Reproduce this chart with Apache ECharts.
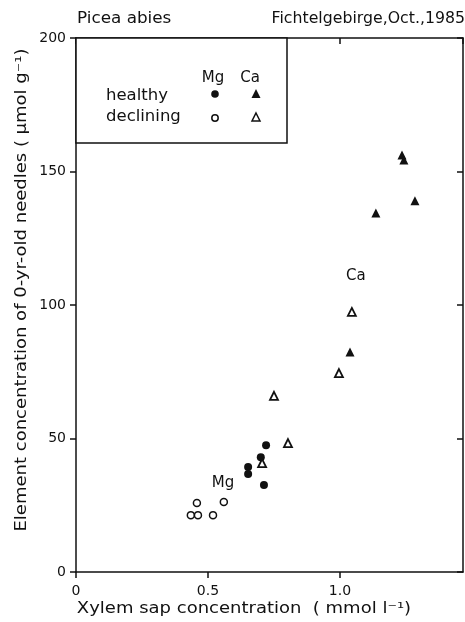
<!DOCTYPE html>
<html style="height:100%">
<head>
    <meta charset="utf-8">
    <title>Picea abies xylem sap</title>
<script src="https://cdn.jsdelivr.net/npm/echarts@6/dist/echarts.min.js"></script>
</head>
<body style="height:100%;width:100%;margin:0;background:#fff;">
    <div id="main" style="width:465px;height:622px;margin:0"></div>
    <script type="text/javascript">
        // values: [xylem sap mmol/l, needle conc µmol/g]
        var mgHealthy = [[0.72, 47.5], [0.70, 43], [0.652, 39.3], [0.652, 36.7], [0.712, 32.6]];
        var mgDeclining = [[0.458, 25.8], [0.56, 26.2], [0.435, 21.3], [0.462, 21.3], [0.519, 21.3]];
        var caHealthy = [[1.235, 156.2], [1.242, 154.3], [1.284, 139], [1.136, 134.5], [1.038, 82.4]];
        var caDeclining = [[1.045, 97.4], [0.996, 74.5], [0.75, 66], [0.803, 48.3], [0.705, 40.8]];
        // in-plot element labels
        var elementLabels = [{name: 'Ca', value: [1.06, 111]}, {name: 'Mg', value: [0.557, 33.3]}];
        var xTicks = [0, 0.5, 1.0];
        var yTicks = [0, 50, 100, 150, 200];

        var FONT = '"DejaVu Sans", Verdana, sans-serif';
        var black = '#111';

        var myChart = echarts.init(document.getElementById('main'));

        function axisBase(extra) {
            var a = {
                type: 'value',
                axisLine: {show: true, onZero: false, lineStyle: {color: black, width: 1.5}},
                axisTick: {show: true, length: 6, lineStyle: {color: black, width: 1.5}},
                splitLine: {show: false}
            };
            for (var k in extra) a[k] = extra[k];
            return a;
        }
        function txt(x, y, s, size, opts) {
            var g = {type: 'text', x: x, y: y, z: 11,
                style: {text: s, font: size + 'px ' + FONT, fill: black, align: 'left', verticalAlign: 'middle'}};
            for (var k in opts) {
                if (k === 'align') g.style.align = opts[k]; else g[k] = opts[k];
            }
            return g;
        }

        myChart.setOption({
            animation: false,
            grid: {left: 76, right: 2, top: 38, bottom: 50},
            xAxis: [
                axisBase({
                    position: 'bottom', min: 0, max: 1.466, interval: 0.5,
                    axisLabel: {
                        showMaxLabel: false, margin: 12, color: black, fontFamily: FONT, fontSize: 14,
                        formatter: function (v) { return xTicks.indexOf(v) < 0 ? '' : (v === 0 ? '0' : v.toFixed(1)); }
                    }
                }),
                axisBase({
                    position: 'top', min: 0, max: 1.466, interval: 0.5,
                    axisTick: {show: true, inside: true, length: 6, lineStyle: {color: black, width: 1.5}},
                    axisLabel: {show: false}
                })
            ],
            yAxis: [
                axisBase({
                    position: 'left', min: 0, max: 200, interval: 50,
                    axisLabel: {margin: 10, color: black, fontFamily: FONT, fontSize: 14,
                        formatter: function (v) { return yTicks.indexOf(v) < 0 ? '' : String(v); }}
                }),
                axisBase({
                    position: 'right', min: 0, max: 200, interval: 50,
                    axisTick: {show: true, inside: true, length: 6, lineStyle: {color: black, width: 1.5}},
                    axisLabel: {show: false}
                })
            ],
            graphic: [
                // headings
                txt(77, 19, 'Picea abies', 15, {scaleX: 1.12}),
                txt(465, 19, 'Fichtelgebirge,Oct.,1985', 15, {align: 'right', scaleX: 1.05}),
                // legend box
                {type: 'rect', shape: {x: 76, y: 38, width: 211, height: 105}, z: 10,
                    style: {fill: '#fff', stroke: black, lineWidth: 1.5}},
                txt(213, 78, 'Mg', 15, {align: 'center'}),
                txt(250, 78, 'Ca', 15, {align: 'center'}),
                txt(106, 96, 'healthy', 15, {scaleX: 1.1}),
                txt(106, 117, 'declining', 15, {scaleX: 1.1}),
                {type: 'circle', shape: {cx: 215, cy: 94, r: 3.8}, z: 11, style: {fill: black}},
                {type: 'circle', shape: {cx: 215, cy: 118, r: 3.2}, z: 11, style: {fill: '#fff', stroke: black, lineWidth: 1.5}},
                {type: 'polygon', shape: {points: [[256, 89], [260.5, 98], [251.5, 98]]}, z: 11, style: {fill: black}},
                {type: 'polygon', shape: {points: [[256, 113], [260, 121], [252, 121]]}, z: 11, style: {fill: '#fff', stroke: black, lineWidth: 1.5}},
                // axis titles
                txt(244, 609, 'Xylem sap concentration  ( mmol l\u207B\u00B9)', 15, {align: 'center', scaleX: 1.2}),
                txt(22, 290, 'Element concentration of 0-yr-old needles ( \u03BCmol g\u207B\u00B9)', 15,
                    {align: 'center', scaleX: 1.2, rotation: Math.PI / 2})
            ],
            series: [
                {name: 'Mg healthy', type: 'scatter', data: mgHealthy, symbol: 'circle', symbolSize: 8,
                    itemStyle: {color: black, opacity: 1}},
                {name: 'Mg declining', type: 'scatter', data: mgDeclining, symbol: 'circle', symbolSize: 7,
                    itemStyle: {color: '#fff', borderColor: black, borderWidth: 1.5, opacity: 1}},
                {name: 'Ca healthy', type: 'scatter', data: caHealthy, symbol: 'triangle', symbolSize: 9,
                    itemStyle: {color: black, opacity: 1}},
                {name: 'Ca declining', type: 'scatter', data: caDeclining, symbol: 'triangle', symbolSize: 8,
                    itemStyle: {color: '#fff', borderColor: black, borderWidth: 1.8, opacity: 1}},
                {name: 'labels', type: 'scatter', data: elementLabels, symbolSize: 0, itemStyle: {opacity: 1},
                    label: {show: true, position: 'inside', formatter: '{b}', color: black, fontFamily: FONT, fontSize: 15}}
            ]
        });
    </script>
</body>
</html>
